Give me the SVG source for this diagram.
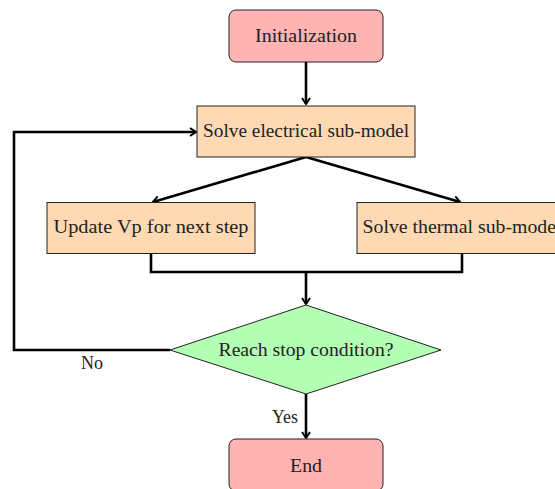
<svg xmlns="http://www.w3.org/2000/svg" width="555" height="489" viewBox="0 0 555 489">
<style>
text{font-family:"Liberation Serif","DejaVu Serif",serif;font-size:18px;fill:#222;text-anchor:middle}
.term{fill:#FFB3B3;stroke:#222;stroke-width:1}
.proc{fill:#FFD9B3;stroke:#222;stroke-width:1}
.dec{fill:#B3FFB3;stroke:#222;stroke-width:1}
.c{fill:none;stroke:#000;stroke-width:2.6}
</style>
<defs>
<marker id="ah" markerWidth="10" markerHeight="10" refX="7" refY="5" orient="auto" markerUnits="userSpaceOnUse">
<path d="M1,1 L7,5 L1,9" fill="none" stroke="#000" stroke-width="2"/>
</marker>
</defs>
<g id="connectors">
<path class="c" d="M306,62 V104" marker-end="url(#ah)"/>
<path class="c" d="M306,157 L153,202" marker-end="url(#ah)"/>
<path class="c" d="M306,157 L460,202" marker-end="url(#ah)"/>
<path class="c" d="M151,253 V272 H462 V253"/>
<path class="c" d="M306,272 V304" marker-end="url(#ah)"/>
<path class="c" d="M170,350 H14 V132 H196" marker-end="url(#ah)"/>
<path class="c" d="M306,394 V438" marker-end="url(#ah)"/>
<text x="92" y="369" textLength="22" lengthAdjust="spacingAndGlyphs">No</text>
<text x="285" y="423" textLength="26" lengthAdjust="spacingAndGlyphs">Yes</text>
</g>
<g id="init">
<rect class="term" x="229" y="10" width="154" height="52" rx="7"/>
<text x="306" y="42" textLength="102" lengthAdjust="spacingAndGlyphs">Initialization</text>
</g>
<g id="elec">
<rect class="proc" x="197" y="106" width="218" height="51"/>
<text x="306" y="137" textLength="206" lengthAdjust="spacingAndGlyphs">Solve electrical sub-model</text>
</g>
<g id="update">
<rect class="proc" x="47" y="202.5" width="208" height="51"/>
<text x="151" y="233" textLength="195" lengthAdjust="spacingAndGlyphs">Update Vp for next step</text>
</g>
<g id="thermal">
<rect class="proc" x="357" y="202.5" width="210" height="51"/>
<text x="462" y="233" textLength="199" lengthAdjust="spacingAndGlyphs">Solve thermal sub-model</text>
</g>
<g id="decision">
<polygon class="dec" points="306,305 441,350 306,394 170,350"/>
<text x="306" y="356" textLength="175" lengthAdjust="spacingAndGlyphs">Reach stop condition?</text>
</g>
<g id="end">
<rect class="term" x="229" y="439" width="154" height="52" rx="7"/>
<text x="306" y="472" textLength="32" lengthAdjust="spacingAndGlyphs">End</text>
</g>
</svg>
